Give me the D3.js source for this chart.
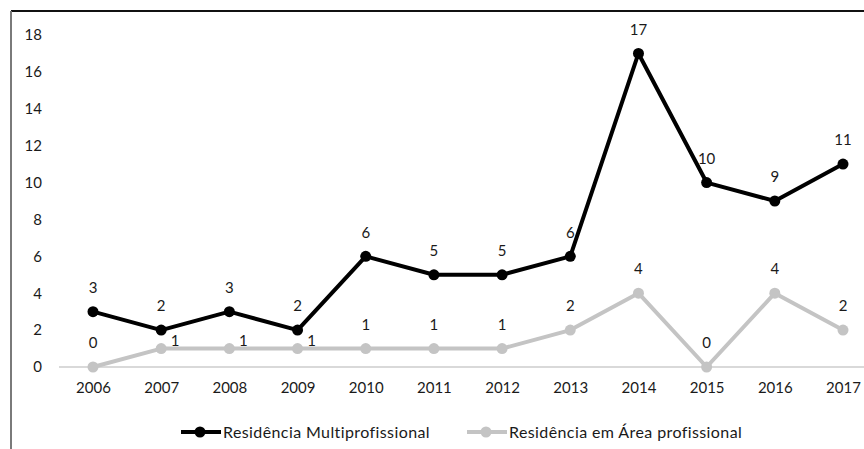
<!DOCTYPE html>
<html>
<head>
<meta charset="utf-8">
<script src="https://cdn.jsdelivr.net/npm/d3@7"></script>
<style>
  body { margin: 0; background: #fff; }
  text { font-family: Lato, "Open Sans", sans-serif; fill: #1a1a1a; }
</style>
</head>
<body>
<div id="chart"></div>
<script>
// years on the x axis
let years = ["2006", "2007", "2008", "2009", "2010", "2011", "2012", "2013", "2014", "2015", "2016", "2017"];
// Residência Multiprofissional
let multi = [3, 2, 3, 2, 6, 5, 5, 6, 17, 10, 9, 11];
// Residência em Área profissional
let area = [0, 1, 1, 1, 1, 1, 1, 2, 4, 0, 4, 2];
// where the value label of the grey series sits
let areaLabelSide = ["top", "right", "right", "right", "top", "top", "top", "top", "top", "top", "top", "top"];
let yTicks = [0, 2, 4, 6, 8, 10, 12, 14, 16, 18];
let seriesNames = ["Residência Multiprofissional", "Residência em Área profissional"];

let w = 864, h = 449;
let black = "#000000", grey = "#c4c4c4";

let svg = d3.select("#chart")
    .append("svg")
    .attr("width", w)
    .attr("height", h);

let xScale = d3.scalePoint()
    .domain(years)
    .range([93, 843]);

let yScale = d3.scaleLinear()
    .domain([0, 18])
    .range([367, 35]);

// frame: top and left edge only
svg.append("line")
    .attr("x1", 11).attr("x2", w)
    .attr("y1", 11).attr("y2", 11)
    .attr("stroke", "#111").attr("stroke-width", 2);
svg.append("line")
    .attr("x1", 11).attr("x2", 11)
    .attr("y1", 11).attr("y2", h)
    .attr("stroke", "#7a7a7a").attr("stroke-width", 2);

// baseline
svg.append("line")
    .attr("x1", 59).attr("x2", w)
    .attr("y1", yScale(0)).attr("y2", yScale(0))
    .attr("stroke", "#d9d9d9").attr("stroke-width", 2);

// Y axis: labels only
let yAxis = d3.axisLeft(yScale)
    .tickValues(yTicks)
    .tickSize(0)
    .tickPadding(0);
svg.append("g")
    .attr("class", "axis")
    .attr("transform", "translate(42,0)")
    .call(yAxis)
    .call(g => g.select(".domain").remove())
    .selectAll("text")
    .style("font-size", "15px")
    .style("font-family", "Lato, sans-serif")
    .attr("fill", "#1a1a1a");

// X axis: labels only
let xAxis = d3.axisBottom(xScale)
    .tickSize(0)
    .tickPadding(0);
svg.append("g")
    .attr("class", "axis")
    .attr("transform", "translate(0,382)")
    .call(xAxis)
    .call(g => g.select(".domain").remove())
    .selectAll("text")
    .style("font-size", "15px")
    .style("font-family", "Lato, sans-serif")
    .attr("fill", "#1a1a1a");

let line = d3.line()
    .x((d, i) => xScale(years[i]))
    .y((d) => yScale(d));

function drawSeries(values, color, sides) {
    let g = svg.append("g");
    g.append("path")
        .datum(values)
        .attr("d", line)
        .attr("fill", "none")
        .attr("stroke", color)
        .attr("stroke-width", 4)
        .attr("stroke-linejoin", "round");
    g.selectAll("circle")
        .data(values)
        .enter()
        .append("circle")
        .attr("cx", (d, i) => xScale(years[i]))
        .attr("cy", (d) => yScale(d))
        .attr("r", 5.5)
        .attr("fill", color);
    g.selectAll("text")
        .data(values)
        .enter()
        .append("text")
        .attr("x", (d, i) => xScale(years[i]) + (sides && sides[i] === "right" ? 14 : 0))
        .attr("y", (d, i) => yScale(d) + (sides && sides[i] === "right" ? -8 : -24))
        .attr("dy", "0.35em")
        .attr("text-anchor", "middle")
        .style("font-size", "15px")
        .text((d) => d);
}

drawSeries(area, grey, areaLabelSide);
drawSeries(multi, black, null);

// legend
let legendItems = [
    { name: seriesNames[0], color: black, x: 181 },
    { name: seriesNames[1], color: grey, x: 467 }
];
let legend = svg.append("g").attr("transform", "translate(0,432)");
legendItems.forEach((item) => {
    legend.append("line")
        .attr("x1", item.x).attr("x2", item.x + 40)
        .attr("y1", 0).attr("y2", 0)
        .attr("stroke", item.color).attr("stroke-width", 4);
    legend.append("circle")
        .attr("cx", item.x + 19).attr("cy", 0)
        .attr("r", 5.5).attr("fill", item.color);
    legend.append("text")
        .attr("x", item.x + 42)
        .attr("y", 0)
        .attr("dy", "0.35em")
        .style("font-size", "16px")
        .style("letter-spacing", "0.4px")
        .text(item.name);
});
</script>
</body>
</html>
